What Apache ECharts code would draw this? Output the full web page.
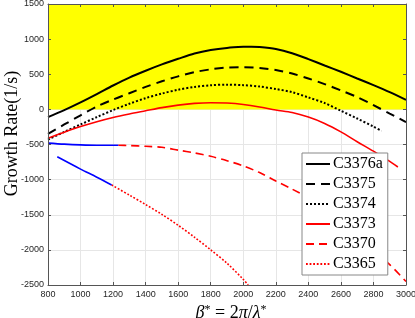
<!DOCTYPE html>
<html>
<head>
<meta charset="utf-8">
<script src="https://cdn.jsdelivr.net/npm/echarts@6/dist/echarts.min.js"></script>
<style>html,body{margin:0;padding:0;background:#fff}#c{width:415px;height:318px}</style>
</head>
<body>
<div id="c"></div>
<script>
// ---- data ----
const legendNames = ['C3376a', 'C3375', 'C3374', 'C3373', 'C3370', 'C3365'];
const xTicks = [800, 1000, 1200, 1400, 1600, 1800, 2000, 2200, 2400, 2600, 2800, 3000];
const yTicks = [-2500, -2000, -1500, -1000, -500, 0, 500, 1000, 1500];

const xC3376a = [800, 900, 1000, 1100, 1200, 1300, 1400, 1500, 1600, 1700, 1800, 1900, 2000, 2050, 2100, 2200, 2300, 2400, 2500, 2600, 2700, 2800, 2900, 3000];
const yC3376a = [-110, -10, 100, 218, 340, 453, 550, 640, 720, 795, 845, 875, 890, 892, 888, 860, 800, 715, 625, 535, 440, 345, 245, 135];

const xC3375 = [800, 900, 1000, 1100, 1200, 1300, 1400, 1500, 1600, 1700, 1800, 1900, 2000, 2100, 2200, 2300, 2400, 2500, 2600, 2700, 2800, 2900, 3000];
const yC3375 = [-350, -215, -85, 40, 140, 230, 320, 400, 470, 530, 570, 595, 600, 590, 560, 510, 440, 360, 270, 175, 60, -60, -180];

const xC3374 = [800, 900, 1000, 1100, 1200, 1300, 1400, 1500, 1600, 1700, 1800, 1900, 2000, 2100, 2200, 2300, 2400, 2500, 2600, 2700, 2800, 2850];
const yC3374 = [-430, -320, -215, -110, -10, 80, 160, 225, 280, 320, 343, 352, 345, 325, 290, 245, 170, 90, -20, -130, -245, -307];

const xC3373 = [800, 900, 1000, 1100, 1200, 1300, 1400, 1500, 1600, 1700, 1800, 1900, 2000, 2100, 2200, 2300, 2400, 2500, 2600, 2700, 2800, 2900, 2950];
const yC3373 = [-410, -325, -245, -175, -115, -65, -20, 25, 60, 85, 95, 90, 70, 35, -10, -45, -110, -200, -320, -460, -595, -740, -820];

const xC3370 = [1232, 1300, 1400, 1500, 1600, 1700, 1800, 1900, 2000, 2100, 2200, 2300, 2400, 2500, 2600, 2700, 2800, 2900, 3000];
const yC3370 = [-510, -515, -525, -540, -580, -620, -668, -730, -805, -900, -1020, -1135, -1260, -1420, -1600, -1800, -2010, -2210, -2450];

const xC3365 = [1191, 1300, 1400, 1500, 1600, 1700, 1800, 1900, 2000, 2030];
const yC3365 = [-1076, -1220, -1355, -1495, -1650, -1820, -2000, -2190, -2420, -2500];

const xBlueA = [800, 900, 1000, 1100, 1232];
const yBlueA = [-480, -495, -505, -510, -510];

const xBlueB = [857, 1000, 1100, 1191];
const yBlueB = [-675, -850, -965, -1076];

const unstableRange = [0, 1500];

function pairs(xs, ys) { return xs.map((x, i) => [x, ys[i]]); }

const serif = 'Liberation Serif';
const sans = 'Liberation Sans';
const axisCol = '#262626';

function mainX(pos, showLabel) {
  return {
    type: 'value', position: pos, min: xTicks[0], max: xTicks[xTicks.length - 1], interval: 200, z: 10,
    axisLine: { show: true, onZero: false, lineStyle: { color: '#555', width: 1 } },
    axisTick: { show: true, inside: true, length: 3, lineStyle: { color: '#555' } },
    axisLabel: { show: showLabel, fontSize: 9, fontFamily: sans, color: axisCol, margin: 5, formatter: v => String(v) },
    splitLine: { show: false }
  };
}
function mainY(pos, showLabel) {
  return {
    type: 'value', position: pos, min: yTicks[0], max: yTicks[yTicks.length - 1], interval: 500, z: 10,
    axisLine: { show: true, onZero: false, lineStyle: { color: '#555', width: 1 } },
    axisTick: { show: true, inside: true, length: 3, lineStyle: { color: '#555' } },
    axisLabel: { show: showLabel, fontSize: 9, fontFamily: sans, color: axisCol, margin: 4, formatter: v => String(v) },
    splitLine: { show: false }
  };
}

const xAxes = [mainX('bottom', true), mainX('top', false), {
  type: 'value', position: 'bottom', min: 800, max: 3000, interval: 200, z: 0,
  axisLine: { show: false }, axisTick: { show: false }, axisLabel: { show: false },
  splitLine: { show: true, lineStyle: { color: '#e6e6e6', width: 1 } }
}];
xAxes[0].name = '{i|β}{s|*} = 2{i|π}/{i|λ}{s|*}';
xAxes[0].nameLocation = 'middle';
xAxes[0].nameGap = 19;
xAxes[0].nameMoveOverlap = false;
xAxes[0].nameTextStyle = {
  fontFamily: serif, fontSize: 18, color: '#000', padding: [0, 0, 0, 8],
  rich: {
    i: { fontFamily: serif, fontStyle: 'italic', fontSize: 18, color: '#000' },
    s: { fontFamily: serif, fontSize: 12, color: '#000', verticalAlign: 'top', padding: [0, 0, 6, 0] }
  }
};

const yAxes = [mainY('left', true), mainY('right', false), {
  type: 'value', position: 'left', min: -2500, max: 1500, interval: 500, z: 0,
  axisLine: { show: false }, axisTick: { show: false }, axisLabel: { show: false },
  splitLine: { show: true, lineStyle: { color: '#e6e6e6', width: 1 } }
}];
yAxes[0].name = 'Growth Rate(1/s)';
yAxes[0].nameLocation = 'middle';
yAxes[0].nameGap = 27;
yAxes[0].nameMoveOverlap = false;
yAxes[0].nameTextStyle = { fontFamily: serif, fontSize: 18, color: '#000', padding: [0, 0, 0, 22] };

function lineSeries(name, xs, ys, color, width, type) {
  return {
    name: name, type: 'line', data: pairs(xs, ys), showSymbol: false, symbol: 'none',
    smooth: 0.3, xAxisIndex: 0, yAxisIndex: 0, z: 3,
    lineStyle: { color: color, width: width, type: type }, itemStyle: { color: color },
    emphasis: { disabled: true }
  };
}

const series = [
  lineSeries('C3376a', xC3376a, yC3376a, '#000', 2, 'solid'),
  lineSeries('C3375', xC3375, yC3375, '#000', 2, [9, 6]),
  lineSeries('C3374', xC3374, yC3374, '#000', 2, [2, 2]),
  lineSeries('C3373', xC3373, yC3373, '#ff0000', 1.6, 'solid'),
  lineSeries('C3370', xC3370, yC3370, '#ff0000', 1.6, [8, 5]),
  lineSeries('C3365', xC3365, yC3365, '#ff0000', 1.6, [1.8, 1.8]),
  lineSeries('blueA', xBlueA, yBlueA, '#0000ff', 1.6, 'solid'),
  lineSeries('blueB', xBlueB, yBlueB, '#0000ff', 1.6, 'solid')
];
series[0].markArea = {
  silent: true,
  itemStyle: { color: '#ffff00', opacity: 1 },
  data: [[{ xAxis: 800, yAxis: unstableRange[0] }, { xAxis: 3000, yAxis: unstableRange[1] }]]
};

const chart = echarts.init(document.getElementById('c'), null, { renderer: 'canvas' });
chart.setOption({
  animation: false,
  backgroundColor: '#fff',
  grid: { left: 48, right: 9, top: 4, bottom: 33, containLabel: false, outerBoundsMode: 'none' },
  xAxis: xAxes,
  yAxis: yAxes,
  legend: {
    data: legendNames, orient: 'vertical', left: 302, top: 153,
    backgroundColor: '#fff', borderColor: '#888', borderWidth: 1, borderRadius: 0,
    padding: [3, 5, 3, 3], itemWidth: 24, itemHeight: 14, itemGap: 4,
    itemStyle: { opacity: 0, borderWidth: 0 },
    textStyle: { fontFamily: serif, fontSize: 16, lineHeight: 16, color: '#000', padding: [0, 0, 0, -2] },
    selectedMode: false, z: 20
  },
  series: series
});
</script>
</body>
</html>
